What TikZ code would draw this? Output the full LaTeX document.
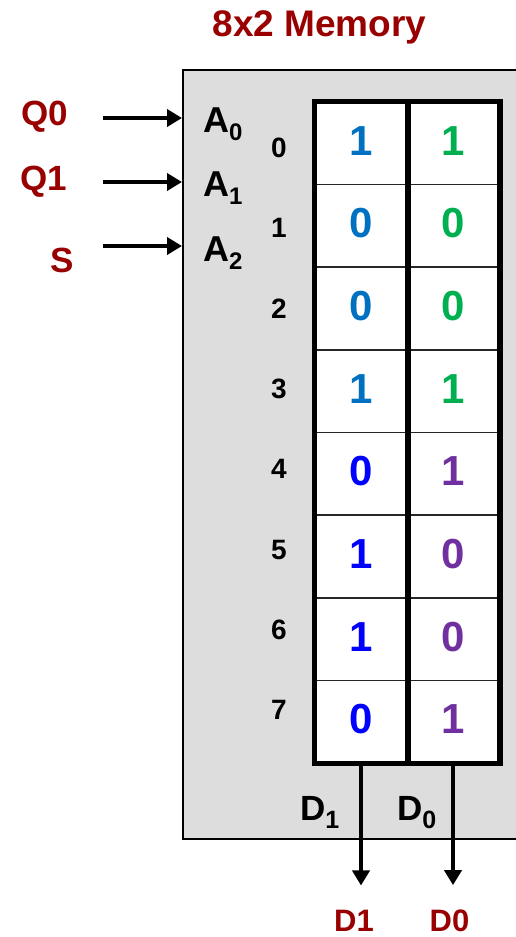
\documentclass[tikz,border=0pt]{standalone}
\usepackage{fontspec}
\setmainfont{Liberation Sans}
\usepackage{xcolor}
\usepackage{tikz}
\usetikzlibrary{arrows.meta, positioning}
\definecolor{memred}{HTML}{990000}
\definecolor{memgray}{HTML}{DDDDDD}
\definecolor{oldblue}{HTML}{0070C0}
\definecolor{oldgreen}{HTML}{00B050}
\definecolor{newblue}{HTML}{0000FF}
\definecolor{newpurple}{HTML}{7030A0}
\newcommand{\fs}[1]{\fontsize{#1}{#1}\selectfont\bfseries}
\tikzstyle{membox} = [rectangle, draw=black, line width=2pt, fill=memgray,
                      minimum width=336pt, minimum height=769pt, inner sep=0]
\tikzstyle{cell}   = [rectangle, draw=black!85, line width=1.5pt, fill=white,
                      minimum width=92pt, minimum height=82.6pt, inner sep=0,
                      font=\fs{42}, text height=30pt, text depth=6pt]
\tikzstyle{frame}  = [line width=5.5pt, line cap=rect]
\tikzstyle{sig}    = [inner sep=0, text=memred, font=\fs{35}]
\tikzstyle{pin}    = [inner sep=0, font=\fs{36}]
\tikzstyle{rowno}  = [inner sep=0, font=\fs{28}]
\tikzstyle{arrow}  = [line width=4.5pt, -{Triangle[length=15pt 0 0, width=17pt 0 0]}]

\begin{document}
\begin{tikzpicture}[x=1pt, y=-1pt]
    \useasboundingbox (0,0) rectangle (515,937);

    \node (title) [sig, font=\fs{37}, anchor=base] at (319.5,36) {8x2 Memory};
    \node (mem) [membox, anchor=north west] at (182,69) {};

    % memory cells
    \foreach \r/\a/\b/\ca/\cb in {0/1/1/oldblue/oldgreen, 1/0/0/oldblue/oldgreen,
            2/0/0/oldblue/oldgreen, 3/1/1/oldblue/oldgreen,
            4/0/1/newblue/newpurple, 5/1/0/newblue/newpurple,
            6/1/0/newblue/newpurple, 7/0/1/newblue/newpurple} {
        \node (c\r0) [cell, text=\ca] at (361, 143.3+82.625*\r) {\a};
        \node (c\r1) [cell, text=\cb] at (453, 143.3+82.625*\r) {\b};
        \node (row\r) [rowno] at (279, 148+80.3*\r) {\r};
    }
    \draw [frame] (c00.north west) rectangle (c71.south east);
    \draw [frame] (c00.north east) -- (c70.south east);

    % address inputs
    \node (a0) [pin, anchor=base west] at (203,132) {A\raisebox{-8pt}{\fs{24}0}};
    \node (a1) [pin, anchor=base west] at (203,196) {A\raisebox{-8pt}{\fs{24}1}};
    \node (a2) [pin, anchor=base west] at (203,261) {A\raisebox{-8pt}{\fs{24}2}};
    \node (q0) [sig, anchor=base] at (44.5,125) {Q0};
    \node (q1) [sig, anchor=base] at (44,190) {Q1};
    \node (s)  [sig, anchor=base] at (62.5,272) {S};
    \coordinate (in0) at (103,118);
    \coordinate (in1) at (103,182);
    \coordinate (in2) at (103,246);
    \draw [arrow] (in0) -- (in0 -| mem.west);
    \draw [arrow] (in1) -- (in1 -| mem.west);
    \draw [arrow] (in2) -- (in2 -| mem.west);

    % data outputs
    \node (d1in) [pin, font=\fs{35}, anchor=base west] at (300,820) {D\raisebox{-8pt}{\fs{25}1}};
    \node (d0in) [pin, font=\fs{35}, anchor=base west] at (397,820) {D\raisebox{-8pt}{\fs{25}0}};
    \node (d1) [sig, font=\fs{31}, anchor=base] at (354,931) {D1};
    \node (d0) [sig, font=\fs{31}, anchor=base] at (449.5,931) {D0};
    \draw [arrow, shorten >=24pt] (c70.south) -- (c70.south |- d1.north);
    \draw [arrow, shorten >=24pt] (c71.south) -- (c71.south |- d0.north);
\end{tikzpicture}
\end{document}
